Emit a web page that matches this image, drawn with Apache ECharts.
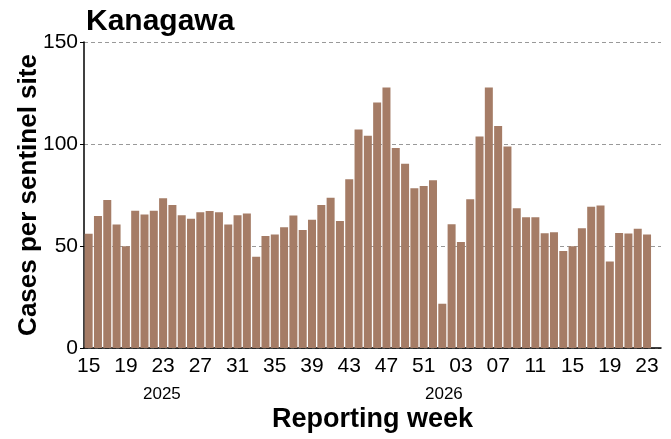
<!DOCTYPE html>
<html>
<head>
<meta charset="utf-8">
<script src="https://cdn.jsdelivr.net/npm/echarts@6/dist/echarts.min.js"></script>
<style>
  html, body { margin: 0; padding: 0; background: #fff; }
  #main { width: 671px; height: 439px; }
</style>
</head>
<body>
<div id="main"></div>
<script>
// weeks 15-52 of 2025, then 01-23 of 2026 (last empty slot is padding on the right)
var weeks = []
for (var w = 15; w <= 52; w++) weeks.push(String(w).padStart(2, '0'))
for (var w2 = 1; w2 <= 23; w2++) weeks.push(String(w2).padStart(2, '0'))
weeks.push('')

var cases2025 = [
  56, 64.7, 72.6, 60.5, 49.9, 67.3, 65.4, 67.3, 73.4, 70.1,
  65.1, 63.3, 66.5, 67.2, 66.5, 60.5, 65.1, 65.9, 44.7, 54.9,
  55.6, 59.2, 64.9, 57.9, 62.9, 70.1, 73.7, 62.3, 82.7, 107.1,
  104, 120.3, 127.7, 98, 90.3, 78.3, 79.4, 82.2
]
var cases2026 = [
  21.7, 60.7, 51.9, 72.9, 103.7, 127.7, 108.8, 98.8, 68.5, 64.1,
  64.1, 56.3, 56.7, 47.6, 49.9, 58.7, 69.3, 69.9, 42.4, 56.4,
  56.1, 58.4, 55.6
]
var yTicks = [0, 50, 100, 150]
var years = ['2025', '2026']

var chart = echarts.init(document.getElementById('main'))
var font = 'Liberation Sans, Arial, sans-serif'

chart.setOption({
  animation: false,
  backgroundColor: '#fff',
  title: {
    text: 'Kanagawa',
    left: 86,
    top: 7,
    padding: 0,
    textStyle: { fontFamily: font, fontSize: 30, fontWeight: 'bold', color: '#000' }
  },
  grid: { left: 84, right: 10, top: 42, bottom: 91 },
  xAxis: {
    type: 'category',
    data: weeks,
    name: 'Reporting week',
    nameLocation: 'middle',
    nameGap: 58,
    nameMoveOverlap: false,
    nameTextStyle: { fontFamily: font, fontSize: 27, fontWeight: 'bold', color: '#000' },
    axisLine: { lineStyle: { color: '#000', width: 1.5 } },
    axisTick: { alignWithLabel: true, interval: 3, length: 4, lineStyle: { color: '#000' } },
    axisLabel: { interval: 3, fontFamily: font, fontSize: 21, color: '#000', margin: 8 }
  },
  yAxis: {
    type: 'value',
    min: yTicks[0],
    max: yTicks[yTicks.length - 1],
    interval: 50,
    name: 'Cases per sentinel site',
    nameLocation: 'middle',
    nameGap: 42,
    nameMoveOverlap: false,
    nameTextStyle: { fontFamily: font, fontSize: 26, fontWeight: 'bold', color: '#000' },
    axisLine: { show: true, lineStyle: { color: '#000', width: 1.5 } },
    axisTick: { show: true, length: 4, lineStyle: { color: '#000' } },
    axisLabel: { fontFamily: font, fontSize: 21, color: '#000', margin: 6 },
    splitLine: { lineStyle: { color: '#999', type: [4, 3], width: 1 } }
  },
  graphic: [
    { type: 'text', left: 143, top: 386, style: { text: years[0], font: '17px ' + font, fill: '#000' } },
    { type: 'text', left: 425, top: 386, style: { text: years[1], font: '17px ' + font, fill: '#000' } }
  ],
  series: [
    {
      type: 'bar',
      data: cases2025.concat(cases2026),
      barCategoryGap: '14%',
      itemStyle: { color: '#a57c66' }
    }
  ]
})
</script>
</body>
</html>
